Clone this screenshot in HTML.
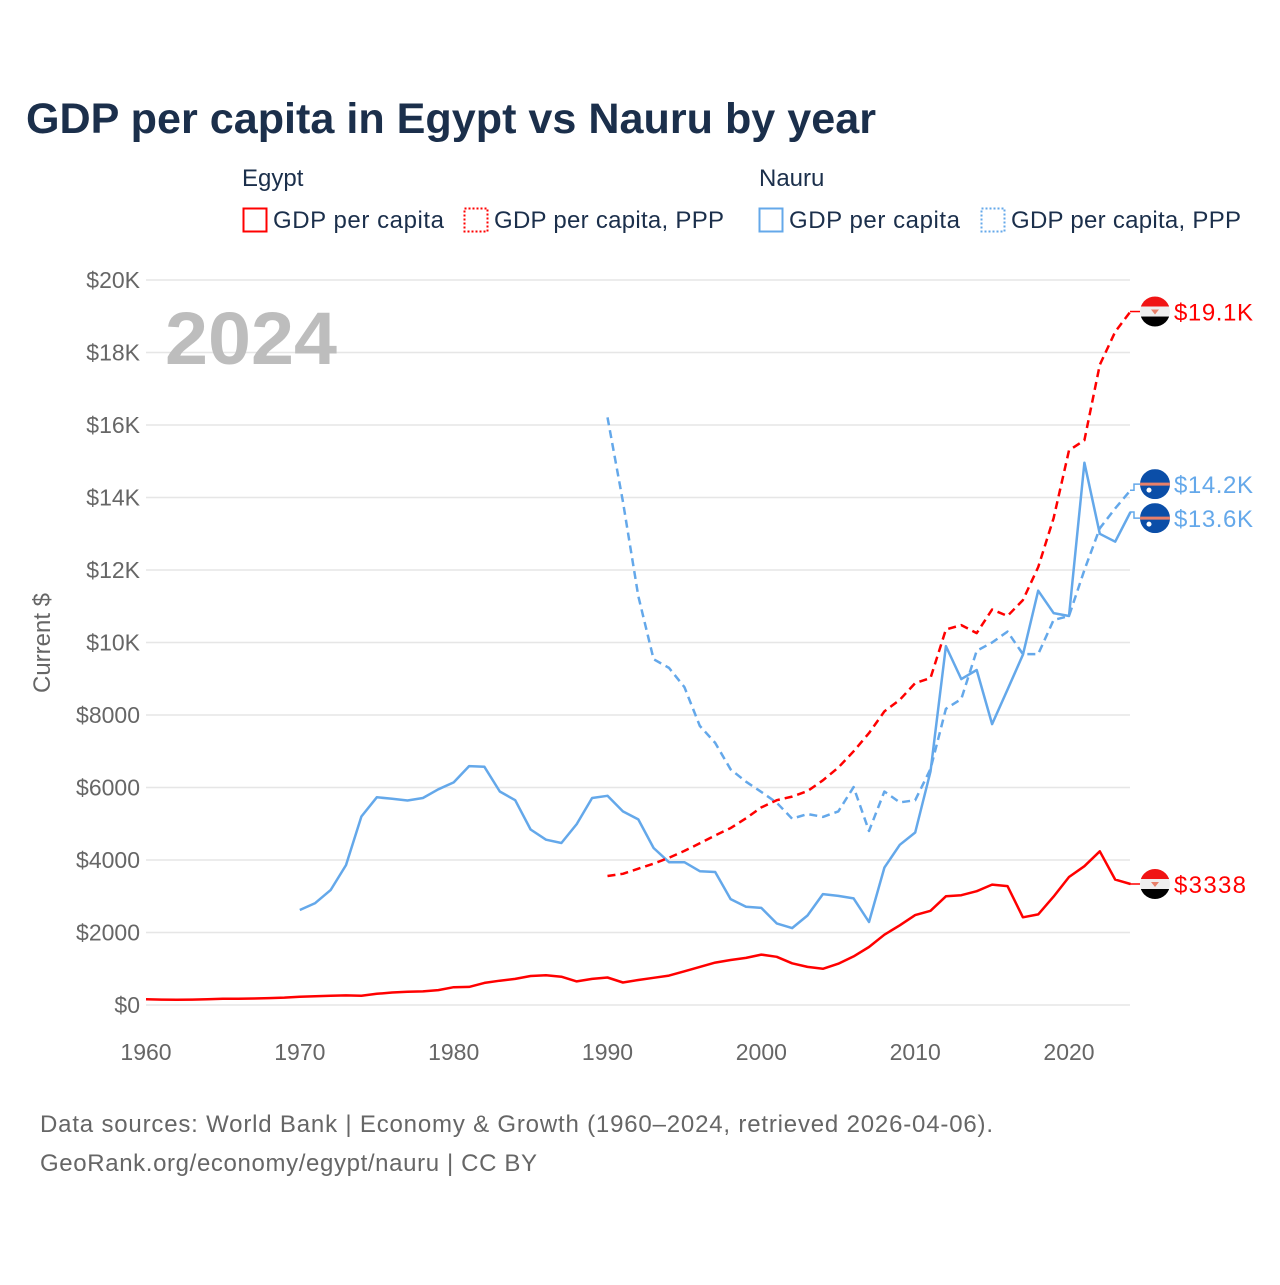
<!DOCTYPE html>
<html><head><meta charset="utf-8"><style>
body{margin:0;background:#fff;width:1280px;height:1280px;overflow:hidden;font-family:"Liberation Sans",sans-serif}
</style></head><body>
<svg id="chart" width="1280" height="1280" viewBox="0 0 1280 1280" xmlns="http://www.w3.org/2000/svg" font-family="Liberation Sans, sans-serif">
<text x="26" y="133" font-size="43" font-weight="bold" fill="#1b2f4b" textLength="850" lengthAdjust="spacingAndGlyphs">GDP per capita in Egypt vs Nauru by year</text>
<g font-size="24" fill="#1b2f4b">
<text x="242" y="186">Egypt</text>
<text x="759" y="186">Nauru</text>
<g><rect x="243.5" y="208.5" width="23" height="23" fill="none" stroke="#f00" stroke-width="2"/><text x="273" y="228" textLength="171">GDP per capita</text></g>
<g><rect x="464.5" y="208.5" width="23" height="23" fill="none" stroke="#f00" stroke-width="2" stroke-dasharray="2,2"/><text x="494" y="228" textLength="230">GDP per capita, PPP</text></g>
<g><rect x="759.5" y="208.5" width="23" height="23" fill="none" stroke="#64a8ea" stroke-width="2"/><text x="789" y="228" textLength="171">GDP per capita</text></g>
<g><rect x="981.5" y="208.5" width="23" height="23" fill="none" stroke="#64a8ea" stroke-width="2" stroke-dasharray="2,2"/><text x="1011" y="228" textLength="230">GDP per capita, PPP</text></g>
</g>
<g id="grid"></g>
<g id="yticks" font-size="23" fill="#666" text-anchor="end"></g>
<g id="xticks" font-size="23" fill="#666" text-anchor="middle"></g>
<text x="165" y="364" font-size="74" font-weight="bold" fill="#bdbdbd" textLength="172" lengthAdjust="spacingAndGlyphs">2024</text>
<text transform="translate(50,643) rotate(-90)" text-anchor="middle" font-size="24" fill="#666">Current $</text>
<g id="series"></g>
<g id="ends" font-size="24"></g>
<text x="40" y="1132" font-size="24" fill="#666" textLength="953">Data sources: World Bank | Economy &amp; Growth (1960–2024, retrieved 2026-04-06).</text>
<text x="40" y="1171" font-size="24" fill="#666" textLength="497">GeoRank.org/economy/egypt/nauru | CC BY</text>
</svg>
<script>
const yTicks=[0,2000,4000,6000,8000,10000,12000,14000,16000,18000,20000];
const yTickLabels=["$0","$2000","$4000","$6000","$8000","$10K","$12K","$14K","$16K","$18K","$20K"];
const xTicks=[1960,1970,1980,1990,2000,2010,2020];
const egyptYears=[1960,1961,1962,1963,1964,1965,1966,1967,1968,1969,1970,1971,1972,1973,1974,1975,1976,1977,1978,1979,1980,1981,1982,1983,1984,1985,1986,1987,1988,1989,1990,1991,1992,1993,1994,1995,1996,1997,1998,1999,2000,2001,2002,2003,2004,2005,2006,2007,2008,2009,2010,2011,2012,2013,2014,2015,2016,2017,2018,2019,2020,2021,2022,2023,2024];
const egyptGdp=[160,150,145,150,160,170,175,180,190,205,230,240,255,265,255,310,345,365,375,410,490,500,610,670,720,800,820,780,650,720,760,620,690,750,810,930,1050,1170,1240,1300,1390,1330,1150,1050,1000,1140,1340,1600,1940,2200,2480,2600,3000,3030,3140,3320,3280,2420,2500,2990,3530,3830,4240,3460,3338];
const pppYears=[1990,1991,1992,1993,1994,1995,1996,1997,1998,1999,2000,2001,2002,2003,2004,2005,2006,2007,2008,2009,2010,2011,2012,2013,2014,2015,2016,2017,2018,2019,2020,2021,2022,2023,2024];
const egyptPpp=[3560,3620,3760,3900,4060,4250,4460,4680,4880,5150,5450,5650,5750,5900,6200,6550,7000,7500,8100,8420,8880,9020,10360,10480,10260,10910,10730,11170,12080,13430,15300,15580,17660,18570,19130];
const nauruYears=[1970,1971,1972,1973,1974,1975,1976,1977,1978,1979,1980,1981,1982,1983,1984,1985,1986,1987,1988,1989,1990,1991,1992,1993,1994,1995,1996,1997,1998,1999,2000,2001,2002,2003,2004,2005,2006,2007,2008,2009,2010,2011,2012,2013,2014,2015,2016,2017,2018,2019,2020,2021,2022,2023,2024];
const nauruGdp=[2620,2810,3170,3860,5200,5730,5690,5640,5710,5950,6140,6590,6570,5890,5650,4840,4560,4470,4990,5710,5770,5340,5120,4330,3940,3940,3690,3670,2920,2710,2680,2250,2120,2470,3060,3010,2940,2290,3790,4420,4760,6440,9900,8990,9240,7750,8700,9660,11430,10810,10730,14960,13000,12780,13600];
const nauruPpp=[16210,13890,11280,9540,9300,8770,7700,7230,6500,6160,5880,5580,5140,5270,5190,5340,6010,4800,5890,5590,5650,6510,8170,8440,9770,10000,10300,9680,9680,10620,10730,12000,13150,13700,14200];
const endLabels=["$19.1K","$14.2K","$13.6K","$3338"];

const NS="http://www.w3.org/2000/svg";
const X=y=>146+(y-1960)*(1069-146)/60;
const Y=v=>1005-v*(1005-280)/20000;
function mk(tag,attrs,parent){const e=document.createElementNS(NS,tag);for(const k in attrs)e.setAttribute(k,attrs[k]);parent.appendChild(e);return e;}
const grid=document.getElementById('grid'),yt=document.getElementById('yticks'),xt=document.getElementById('xticks');
yTicks.forEach((v,i)=>{
 const l=mk('line',{x1:146,x2:1130,y1:Y(v),y2:Y(v),stroke:'#e6e6e6','stroke-width':1.5},grid);
 
 
 const t=mk('text',{x:140,y:Y(v)+8},yt);t.textContent=yTickLabels[i];
 
 
});
xTicks.forEach(v=>{
 const t=mk('text',{x:X(v),y:1060},xt);t.textContent=v;
 
 
});
const ser=document.getElementById('series');
function line(years,vals,color,dash,name){
 const d=years.map((y,i)=>(i?'L':'M')+X(y).toFixed(1)+','+Y(vals[i]).toFixed(1)).join('');
 const p=mk('path',{d:d,fill:'none',stroke:color,'stroke-width':2.5,'stroke-linejoin':'round'},ser);
 if(dash)p.setAttribute('stroke-dasharray',dash);
 
 
}
line(nauruYears,nauruGdp,'#64a8ea',null,'line-nauru-gdp');
line(pppYears,nauruPpp,'#64a8ea','8,5','line-nauru-ppp');
line(pppYears,egyptPpp,'#ff0000','8,5','line-egypt-ppp');
line(egyptYears,egyptGdp,'#ff0000',null,'line-egypt-gdp');
const ends=document.getElementById('ends');
const endVals=[egyptPpp[egyptPpp.length-1],nauruPpp[nauruPpp.length-1],nauruGdp[nauruGdp.length-1],egyptGdp[egyptGdp.length-1]];
const endCols=['#ff0000','#64a8ea','#64a8ea','#ff0000'];
const endFlags=['egypt','nauru','nauru','egypt'];
// label collision avoidance
const idx=endVals.map((v,i)=>i).sort((a,b)=>Y(endVals[a])-Y(endVals[b]));
const pos=[];let prev=-1e9;
idx.forEach(i=>{let y=Y(endVals[i]);if(y<prev+34)y=prev+34;pos[i]=y;prev=y;});
// recentre clusters
for(let k=1;k<idx.length;k++){const a=idx[k-1],b=idx[k];if(pos[b]-pos[a]<=34.01&&pos[b]!==Y(endVals[b])){const mid=(Y(endVals[a])+Y(endVals[b]))/2;pos[a]=mid-17;pos[b]=mid+17;}}
endVals.forEach((v,i)=>{
 const vy=Y(v), cy=pos[i], cx=1155;
 const g=mk('g',{},ends);
 
 
 mk('path',{d:`M1130,${vy}L1134,${vy}L1134,${cy}L1140,${cy}`,fill:'none',stroke:endCols[i],'stroke-width':1.5},g);
 const id='c'+i;
 const cp=mk('clipPath',{id:id},g);mk('circle',{cx:cx,cy:cy,r:15},cp);
 const f=mk('g',{'clip-path':'url(#'+id+')'},g);
 if(endFlags[i]==='egypt'){
  mk('rect',{x:cx-15,y:cy-15,width:30,height:10,fill:'#f01414'},f);
  mk('rect',{x:cx-15,y:cy-5,width:30,height:10,fill:'#eeeeee'},f);
  mk('rect',{x:cx-15,y:cy+5,width:30,height:10,fill:'#000'},f);
  mk('path',{d:`M${cx-4},${cy-2}L${cx+4},${cy-2}L${cx},${cy+3}Z`,fill:'#e8806a'},f);
 }else{
  mk('rect',{x:cx-15,y:cy-15,width:30,height:30,fill:'#0b4ea8'},f);
  mk('rect',{x:cx-15,y:cy-1.5,width:30,height:3,fill:'#e8806a'},f);
  mk('circle',{cx:cx-6,cy:cy+6,r:2.5,fill:'#fff'},f);
 }
 const t=mk('text',{x:1174,y:cy+9,fill:endCols[i],textLength:(endLabels[i].length>5?79:72)},g);t.textContent=endLabels[i];
});
</script>
</body></html>
